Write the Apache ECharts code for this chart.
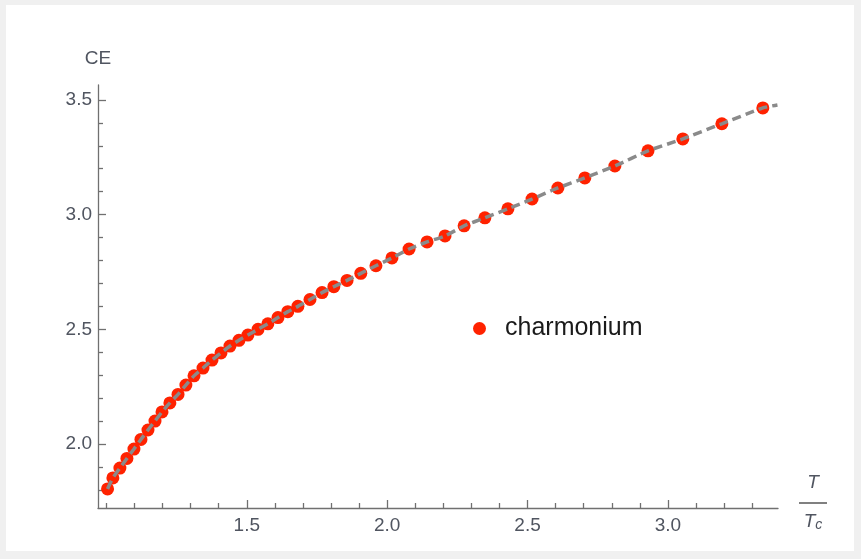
<!DOCTYPE html>
<html>
<head>
<meta charset="utf-8">
<title>CE vs T/Tc</title>
<script src="https://cdn.jsdelivr.net/npm/echarts@6/dist/echarts.min.js"></script>
<style>
    html, body { margin: 0; padding: 0; background: #f0f0f0; }
    #panel { position: absolute; left: 6px; top: 5px; width: 848px; height: 546px; background: #fff; }
    #main { position: absolute; left: 0; top: 0; width: 861px; height: 559px; }
</style>
</head>
<body>
<div id="panel"></div>
<div id="main"></div>
<script>
// 数据：T/Tc 与 CE
var tempRatio = [1.004, 1.023, 1.048, 1.073, 1.098, 1.123, 1.148, 1.173, 1.198, 1.226,
    1.255, 1.283, 1.312, 1.344, 1.376, 1.408, 1.440, 1.472, 1.504, 1.540,
    1.575, 1.611, 1.646, 1.682, 1.725, 1.768, 1.810, 1.857, 1.906, 1.960,
    2.017, 2.078, 2.142, 2.206, 2.274, 2.348, 2.430, 2.516, 2.608, 2.704,
    2.811, 2.929, 3.053, 3.192, 3.338];
var ceValues = [1.804, 1.852, 1.895, 1.937, 1.978, 2.020, 2.061, 2.100, 2.140, 2.179,
    2.216, 2.257, 2.297, 2.331, 2.366, 2.397, 2.427, 2.452, 2.475, 2.500,
    2.524, 2.551, 2.577, 2.600, 2.630, 2.660, 2.686, 2.713, 2.744, 2.777,
    2.811, 2.850, 2.881, 2.907, 2.951, 2.986, 3.025, 3.068, 3.116, 3.160,
    3.212, 3.278, 3.330, 3.396, 3.465];
// 虚线拟合曲线的延伸端点
var fitTailX = [3.39];
var fitTailY = [3.478];

// 刻度
var xMajorTicks = [1.5, 2.0, 2.5, 3.0];
var xMinorTicks = [1.0, 1.1, 1.2, 1.3, 1.4, 1.6, 1.7, 1.8, 1.9, 2.1, 2.2, 2.3, 2.4,
    2.6, 2.7, 2.8, 2.9, 3.1, 3.2, 3.3];
var yMajorTicks = [2.0, 2.5, 3.0, 3.5];
var yMinorTicks = [1.8, 1.9, 2.1, 2.2, 2.3, 2.4, 2.6, 2.7, 2.8, 2.9, 3.1, 3.2, 3.3, 3.4];

var seriesName = 'charmonium';

var scatterData = [];
for (var i = 0; i < tempRatio.length; i++) {
    scatterData.push([tempRatio[i], ceValues[i]]);
}
var fitData = scatterData.slice();
for (var j = 0; j < fitTailX.length; j++) {
    fitData.push([fitTailX[j], fitTailY[j]]);
}

var axisColor = '#707070';
var labelColor = '#505560';
var font = 'Liberation Sans, Arial, sans-serif';

var myChart = echarts.init(document.getElementById('main'));
var option = {
    backgroundColor: 'transparent',
    animation: false,
    grid: { left: 98, right: 83, top: 85, bottom: 51 },
    legend: {
        data: [seriesName],
        left: 468,
        top: 311,
        icon: 'circle',
        itemWidth: 13,
        itemHeight: 13,
        textStyle: { fontSize: 25, color: '#1a1a1a', fontFamily: font, padding: [0, 0, 0, 14] }
    },
    xAxis: [
        {
            type: 'value',
            min: 0.97,
            max: 3.392,
            name: '{t|T}\n{bar| }\n{tc|T}{c|c}',
            nameLocation: 'end',
            nameGap: 35,
            nameTextStyle: {
                align: 'center',
                verticalAlign: 'middle',
                padding: [0, 0, 12, 0],
                rich: {
                    t: { fontSize: 19, fontStyle: 'italic', fontFamily: font, color: labelColor, lineHeight: 32, align: 'center' },
                    bar: { width: 28, height: 2, backgroundColor: '#808080', lineHeight: 8, align: 'center' },
                    tc: { fontSize: 19, fontStyle: 'italic', fontFamily: font, color: labelColor, lineHeight: 30, align: 'center' },
                    c: { fontSize: 14, fontStyle: 'italic', fontFamily: font, color: labelColor, lineHeight: 30, padding: [6, 0, 0, 0] }
                }
            },
            axisLine: { show: true, onZero: false, lineStyle: { color: axisColor, width: 1.3 } },
            axisTick: { show: true, inside: true, length: 8, customValues: xMajorTicks, lineStyle: { color: axisColor, width: 1.3 } },
            axisLabel: {
                customValues: xMajorTicks,
                margin: 8,
                fontSize: 19,
                color: labelColor,
                fontFamily: font,
                formatter: function (v) { return v.toFixed(1); }
            },
            splitLine: { show: false }
        },
        {
            type: 'value',
            min: 0.97,
            max: 3.392,
            position: 'bottom',
            axisLine: { show: false },
            axisTick: { show: true, inside: true, length: 5, customValues: xMinorTicks, lineStyle: { color: axisColor, width: 1.3 } },
            axisLabel: { show: false },
            splitLine: { show: false }
        }
    ],
    yAxis: [
        {
            type: 'value',
            min: 1.721,
            max: 3.565,
            name: 'CE',
            nameLocation: 'end',
            nameGap: 17,
            nameTextStyle: { fontSize: 19, color: labelColor, fontFamily: font, align: 'center' },
            axisLine: { show: true, onZero: false, lineStyle: { color: axisColor, width: 1.3 } },
            axisTick: { show: true, inside: true, length: 8, customValues: yMajorTicks, lineStyle: { color: axisColor, width: 1.3 } },
            axisLabel: {
                customValues: yMajorTicks,
                margin: 6,
                fontSize: 19,
                color: labelColor,
                fontFamily: font,
                formatter: function (v) { return v.toFixed(1); }
            },
            splitLine: { show: false }
        },
        {
            type: 'value',
            min: 1.721,
            max: 3.565,
            position: 'left',
            axisLine: { show: false },
            axisTick: { show: true, inside: true, length: 5, customValues: yMinorTicks, lineStyle: { color: axisColor, width: 1.3 } },
            axisLabel: { show: false },
            splitLine: { show: false }
        }
    ],
    series: [
        {
            name: seriesName,
            type: 'scatter',
            xAxisIndex: 0,
            yAxisIndex: 0,
            symbol: 'circle',
            symbolSize: 13,
            itemStyle: { color: '#ff2200', opacity: 1 },
            zlevel: 0,
            z: 1,
            data: scatterData
        },
        {
            name: 'fit',
            type: 'line',
            xAxisIndex: 0,
            yAxisIndex: 0,
            showSymbol: false,
            smooth: 0.2,
            lineStyle: { color: '#8a8a8a', width: 3.5, type: [9, 5] },
            zlevel: 1,
            z: 10,
            data: fitData
        }
    ]
};
myChart.setOption(option);
</script>
</body>
</html>
